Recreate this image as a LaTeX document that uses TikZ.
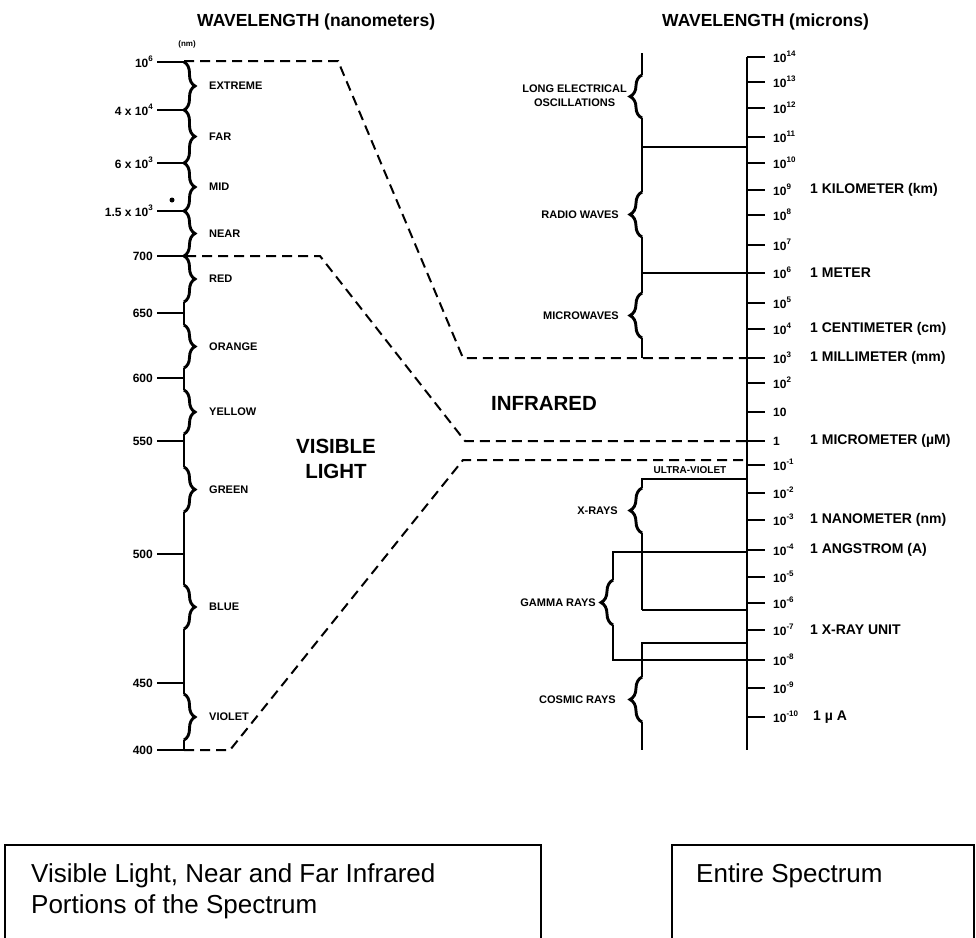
\documentclass[tikz,border=0pt]{standalone}
\usepackage{fontspec}
\setmainfont{Liberation Sans}
\usetikzlibrary{decorations.pathreplacing}
\newcommand{\esup}[1]{\raisebox{0.5em}{\fontsize{8}{9}\selectfont\bfseries #1}}
\begin{document}
\begin{tikzpicture}[x=1pt,y=-1pt,
  axisln/.style={line width=1.5pt},
  tickln/.style={line width=2.2pt},
  lbrace/.style={decorate,decoration={brace,amplitude=11pt},line width=2.9pt},
  rbrace/.style={decorate,decoration={brace,amplitude=12pt},line width=2.9pt},
  dashln/.style={line width=2pt,dash pattern=on 10pt off 6pt},
  lbl/.style={font=\fontsize{11}{14}\selectfont\bfseries,inner sep=0pt},
  tlbl/.style={font=\fontsize{12}{14}\selectfont\bfseries,inner sep=0pt},
  ulbl/.style={font=\fontsize{14}{16}\selectfont\bfseries,inner sep=0pt,anchor=west},
  ttl/.style={font=\fontsize{17.5}{20}\selectfont\bfseries,inner sep=0pt,anchor=west},
  big/.style={font=\fontsize{20.5}{25}\selectfont\bfseries,inner sep=0pt,align=center},
  boxln/.style={line width=2.8pt},
  boxtxt/.style={font=\fontsize{26}{31}\selectfont,inner sep=0pt,align=left}
]
\useasboundingbox (0,0) rectangle (976,937);

% titles
\node[ttl] (tl) at (197,22) {WAVELENGTH (nanometers)};
\node[ttl] (tr) at (662,22) {WAVELENGTH (microns)};
\node[font=\fontsize{8}{9}\selectfont\bfseries,inner sep=0pt] (nm) at (187,44) {(nm)};

% ---------- left axis ----------
\draw[axisln] (184,302) -- (184,325) (184,368) -- (184,390) (184,434) -- (184,467)
  (184,512) -- (184,585) (184,629) -- (184,694) (184,740) -- (184,750);
\foreach \y/\t [count=\i] in {62/10\esup{6}, 110/4 x 10\esup{4}, 163/6 x 10\esup{3},
    211/1.5 x 10\esup{3}, 256/700, 313/650, 378/600, 441/550, 554/500, 683/450, 750/400}{
  \node[tlbl,anchor=east] (lv\i) at (153,\y) {\t};
  \coordinate (la\i) at (184,\y);
  \draw[tickln] ([xshift=4pt]lv\i.east) -- (la\i);
}
\foreach \a/\b/\t [count=\i] in {62/110/EXTREME, 110/163/FAR, 163/211/MID, 211/256/NEAR,
    256/302/RED, 325/368/ORANGE, 390/434/YELLOW, 467/512/GREEN, 585/629/BLUE, 694/740/VIOLET}{
  \draw[lbrace] (184,\a) -- (184,\b);
  \node[lbl,anchor=west] (lb\i) at (209,{(\a+\b)/2}) {\t};
}
\node[circle,fill,inner sep=0pt,minimum size=5pt] (dot) at (172,200) {};

% ---------- dashed connectors ----------
\coordinate (d1a) at (184,61); \coordinate (d1b) at (338,61);
\coordinate (d1c) at (463,358); \coordinate (d1d) at (747,358);
\coordinate (d2a) at (186,256); \coordinate (d2b) at (320,256);
\coordinate (d2c) at (465,441); \coordinate (d2d) at (747,441);
\coordinate (d3a) at (184,750); \coordinate (d3b) at (230,750);
\coordinate (d3c) at (463,460); \coordinate (d3d) at (747,460);
\draw[dashln] (d1a) -- (d1b) -- (d1c) -- (d1d);
\draw[dashln] (d2a) -- (d2b) -- (d2c) -- (d2d);
\draw[dashln] (d3a) -- (d3b) -- (d3c) -- (d3d);

\node[big] (vis) at (336,459) {VISIBLE\\LIGHT};
\node[big] (ir) at (544,403) {INFRARED};

% ---------- right axis ----------
\draw[axisln] (747,57) -- (747,750);
\foreach \y/\t [count=\i] in {57/10\esup{14}, 82/10\esup{13}, 108/10\esup{12}, 137/10\esup{11},
    163/10\esup{10}, 190/10\esup{9}, 215/10\esup{8}, 245/10\esup{7}, 273/10\esup{6},
    303/10\esup{5}, 329/10\esup{4}, 358/10\esup{3}, 383/10\esup{2}, 412/10, 441/1,
    465/10\esup{-1}, 493/10\esup{-2}, 520/10\esup{-3}, 550/10\esup{-4}, 577/10\esup{-5},
    603/10\esup{-6}, 630/10\esup{-7}, 660/10\esup{-8}, 688/10\esup{-9}, 717/10\esup{-10}}{
  \node[tlbl,anchor=west] (rv\i) at (773,\y) {\t};
  \coordinate (ra\i) at (747,\y);
  \draw[tickln] (ra\i) -- ([xshift=-8pt]rv\i.west);
}
\node[ulbl] (u1) at (810,190) {1 KILOMETER (km)};
\node[ulbl] (u2) at (810,273) {1 METER};
\node[ulbl] (u3) at (810,329) {1 CENTIMETER (cm)};
\node[ulbl] (u4) at (810,358) {1 MILLIMETER (mm)};
\node[ulbl] (u5) at (810,441) {1 MICROMETER (µM)};
\node[ulbl] (u6) at (810,520) {1 NANOMETER (nm)};
\node[ulbl] (u7) at (810,550) {1 ANGSTROM (A)};
\node[ulbl] (u8) at (810,630) {1 X-RAY UNIT};
\node[ulbl] (u9) at (813,717) {1 µ A};

% ---------- right bands ----------
\draw[axisln] (642,53) -- (642,75) (642,118) -- (642,192) (642,237) -- (642,293) (642,338) -- (642,358);
\draw[rbrace] (642,118) -- (642,75);
\draw[rbrace] (642,237) -- (642,192);
\draw[rbrace] (642,338) -- (642,293);
\draw[axisln] (642,147) -- (747,147);
\draw[axisln] (642,273) -- (747,273);
\node[lbl,anchor=east,align=center] (leo) at (627,96) {LONG ELECTRICAL\\OSCILLATIONS};
\node[lbl,anchor=east] (radio) at (619,215) {RADIO WAVES};
\node[lbl,anchor=east] (micro) at (619,316) {MICROWAVES};

\node[lbl,font=\fontsize{10}{12}\selectfont\bfseries] (uv) at (690,470) {ULTRA-VIOLET};
% x-rays
\draw[axisln] (747,479) -- (642,479) -- (642,488);
\draw[rbrace] (642,533) -- (642,488);
\draw[axisln] (642,533) -- (642,610);
\draw[line width=2.2pt] (642,610) -- (747,610);
\node[lbl,anchor=east] (xr) at (618,511) {X-RAYS};
% gamma rays
\draw[axisln] (747,552) -- (613,552) -- (613,580);
\draw[rbrace] (613,625) -- (613,580);
\draw[axisln] (613,625) -- (613,660) -- (747,660);
\node[lbl,anchor=east] (gr) at (596,603) {GAMMA RAYS};
% cosmic rays
\draw[axisln] (747,643) -- (642,643) -- (642,677);
\draw[rbrace] (642,722) -- (642,677);
\draw[axisln] (642,722) -- (642,750);
\node[lbl,anchor=east] (cr) at (616,700) {COSMIC RAYS};

% ---------- bottom boxes ----------
\draw[boxln] (5,945) -- (5,845) -- (541,845) -- (541,945);
\node[boxtxt,anchor=north west] (bl) at (31,863) {Visible Light, Near and Far Infrared\\Portions of the Spectrum};
\draw[boxln] (672,945) -- (672,845) -- (974,845) -- (974,945);
\node[boxtxt,anchor=north west] (br) at (696,863) {Entire Spectrum};
\end{tikzpicture}
\end{document}
